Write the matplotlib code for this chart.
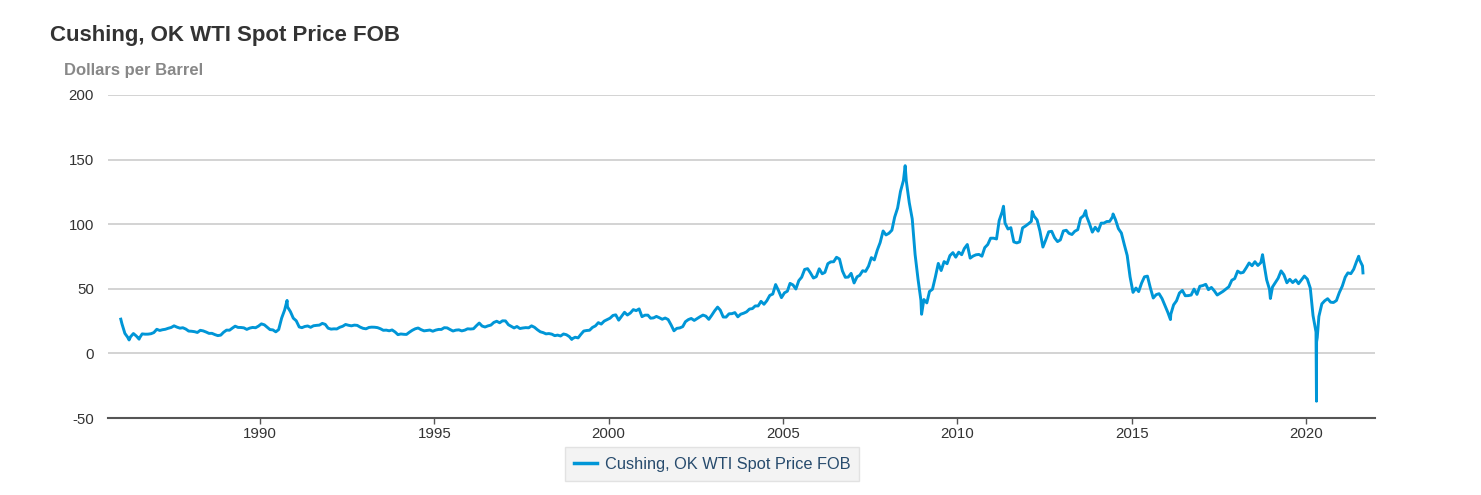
import matplotlib
matplotlib.use("Agg")
import matplotlib.pyplot as plt
import pandas as pd

plt.rcParams['font.family'] = ['Liberation Sans', 'DejaVu Sans']
plt.rcParams['axes.unicode_minus'] = False

title = "Cushing, OK WTI Spot Price FOB"
y_label = "Dollars per Barrel"
series_name = "Cushing, OK WTI Spot Price FOB"

# Monthly average spot prices (USD/bbl), starting Jan 1986
prices_1986_1989 = [
    22.93, 15.46, 12.61, 12.84, 15.38, 13.43, 11.59, 15.10, 14.87, 14.90, 15.22, 16.11,
    18.65, 17.75, 18.30, 18.68, 19.44, 20.07, 21.34, 20.31, 19.53, 19.86, 18.85, 17.28,
    17.13, 16.80, 16.20, 17.86, 17.42, 16.53, 15.50, 15.52, 14.54, 13.77, 14.14, 16.38,
    18.02, 17.94, 19.48, 21.07, 20.12, 20.05, 19.78, 18.58, 19.59, 20.10, 19.86, 21.10,
]
prices_1990s = [
    22.86, 22.11, 20.39, 18.43, 18.20, 16.70, 18.45, 27.31, 33.51, 36.04, 32.33, 27.28,
    25.23, 20.48, 19.90, 20.83, 21.23, 20.19, 21.40, 21.69, 21.89, 23.23, 22.46, 19.50,
    18.79, 19.01, 18.92, 20.23, 20.98, 22.39, 21.78, 21.34, 21.88, 21.69, 20.34, 19.41,
    19.03, 20.09, 20.32, 20.25, 19.95, 19.09, 17.89, 18.01, 17.50, 18.15, 16.61, 14.52,
    15.03, 14.78, 14.68, 16.42, 17.89, 19.06, 19.66, 18.38, 17.45, 17.72, 18.07, 17.16,
    18.04, 18.57, 18.54, 19.90, 19.74, 18.45, 17.33, 18.02, 18.23, 17.43, 17.99, 19.03,
    18.86, 19.09, 21.33, 23.50, 21.17, 20.42, 21.30, 21.90, 23.97, 24.88, 23.71, 25.23,
    25.13, 22.18, 20.97, 19.70, 20.82, 19.26, 19.66, 19.95, 19.80, 21.33, 20.19, 18.33,
    16.72, 16.06, 15.12, 15.35, 14.91, 13.72, 14.17, 13.47, 15.03, 14.46, 13.00, 11.35,
    12.52, 12.01, 14.68, 17.31, 17.72, 17.92, 20.10, 21.28, 23.80, 22.69, 25.00, 26.10,
]
prices_2000s = [
    27.26, 29.37, 29.84, 25.72, 28.79, 31.82, 29.70, 31.26, 33.88, 33.11, 34.42, 28.44,
    29.59, 29.61, 27.24, 27.49, 28.63, 27.60, 26.43, 27.37, 26.20, 22.17, 19.64, 19.39,
    19.72, 20.72, 24.53, 26.18, 27.04, 25.52, 26.97, 28.39, 29.66, 28.84, 26.35, 29.46,
    32.95, 35.83, 33.51, 28.17, 28.11, 30.66, 30.75, 31.57, 28.31, 30.34, 31.11, 32.13,
    34.31, 34.69, 36.74, 36.75, 40.28, 38.03, 40.78, 44.90, 45.94, 53.28, 48.47, 43.15,
    46.84, 48.15, 54.19, 52.98, 49.83, 56.35, 59.00, 64.99, 65.59, 62.26, 58.32, 59.41,
    65.49, 61.63, 62.69, 69.44, 70.84, 70.95, 74.41, 73.04, 63.80, 58.89, 59.08, 61.96,
    54.51, 59.28, 60.44, 63.98, 63.46, 67.49, 74.12, 72.36, 79.92, 85.80, 94.77, 91.69,
    92.97, 95.39, 105.45, 112.58, 125.40, 133.88, 133.37, 116.67, 104.11, 76.61, 57.31, 41.12,
    41.71, 39.09, 47.94, 49.65, 59.03, 69.64, 64.15, 71.05, 69.41, 75.72, 77.99, 74.47,
]
prices_2010s = [
    78.33, 76.39, 81.20, 84.29, 73.74, 75.34, 76.32, 76.60, 75.24, 81.89, 84.25, 89.15,
    89.17, 88.58, 102.86, 109.53, 100.90, 96.26, 97.30, 86.33, 85.52, 86.32, 97.16, 98.56,
    100.27, 102.20, 106.16, 103.32, 94.66, 82.30, 87.90, 94.13, 94.51, 89.49, 86.53, 87.86,
    94.76, 95.31, 92.94, 92.02, 94.51, 95.77, 104.67, 106.57, 106.29, 100.54, 93.86, 97.63,
    94.62, 100.82, 100.80, 102.07, 102.18, 105.79, 103.59, 96.54, 93.21, 84.40, 75.79, 59.29,
    47.22, 50.58, 47.82, 54.45, 59.27, 59.82, 50.90, 42.87, 45.48, 46.22, 42.44, 37.19,
    31.68, 30.32, 37.55, 40.75, 46.71, 48.76, 44.65, 44.72, 45.18, 49.78, 45.66, 51.97,
    52.50, 53.47, 49.33, 51.06, 48.48, 45.18, 46.63, 48.04, 49.82, 51.58, 56.64, 57.88,
    63.70, 62.23, 62.73, 66.25, 69.98, 67.87, 70.98, 68.06, 70.23, 70.75, 56.96, 49.52,
    51.38, 54.95, 58.15, 63.86, 60.83, 54.66, 57.35, 54.81, 56.95, 53.96, 57.03, 59.88,
]
prices_2020s = [
    57.52, 50.54, 29.21, 16.55, 28.56, 38.31, 40.71, 42.34, 39.63, 39.40, 40.94, 47.02,
    52.00, 59.04, 62.33, 61.72, 65.17, 71.38, 72.49, 67.73,
]

# Notable daily extremes visible in the chart
extreme_dates = [
    "1986-01-03", "1986-03-31", "1986-07-14", "1990-10-11", "1998-12-10",
    "2001-11-15", "2008-07-03", "2008-12-22", "2011-04-29", "2012-02-24",
    "2013-09-06", "2014-06-20", "2016-02-11", "2018-10-03", "2018-12-24",
    "2020-04-20", "2020-04-21", "2020-04-28", "2021-07-06", "2021-08-20",
]
extreme_values = [
    26.5, 10.4, 11.0, 41.0, 10.8,
    17.5, 145.3, 30.3, 113.9, 109.8,
    110.5, 107.9, 26.2, 76.4, 42.5,
    -37.0, 8.9, 12.3, 75.2, 62.3,
]

y_ticks = [-50, 0, 50, 100, 150, 200]
x_tick_years = [1990, 1995, 2000, 2005, 2010, 2015, 2020]

monthly = prices_1986_1989 + prices_1990s + prices_2000s + prices_2010s + prices_2020s
monthly_dates = pd.date_range("1986-01-01", periods=len(monthly), freq="MS") + pd.Timedelta(days=14)
s = pd.concat([
    pd.Series(monthly, index=monthly_dates),
    pd.Series(extreme_values, index=pd.to_datetime(extreme_dates)),
]).sort_index()
s = s[~s.index.duplicated()]

W, H = 1481, 495
fig = plt.figure(figsize=(W / 100, H / 100), dpi=100)
ax = fig.add_axes([108 / W, 1 - 418 / H, (1375 - 108) / W, (418 - 95) / H])

ax.plot(s.index, s.values, color="#0096d7", lw=2.1, solid_joinstyle="round", zorder=3,
        label=series_name)

ax.set_ylim(-50, 200)
ax.set_yticks(y_ticks)
ax.set_xlim(pd.Timestamp("1985-08-22"), pd.Timestamp("2021-12-24"))
ax.set_xticks([pd.Timestamp(f"{y}-01-01") for y in x_tick_years])
ax.set_xticklabels([str(y) for y in x_tick_years])

for v in y_ticks[1:]:
    ax.axhline(v, color="#c8c8c8", lw=1.1, zorder=1)

for sp in ["top", "right", "left"]:
    ax.spines[sp].set_visible(False)
ax.spines["bottom"].set_color("#555555")
ax.spines["bottom"].set_linewidth(1.5)

ax.tick_params(axis="y", length=0, pad=10, labelsize=10.8, labelcolor="#333333")
ax.tick_params(axis="x", length=4.5, width=1, color="#555555", pad=2,
               labelsize=10.8, labelcolor="#333333")

fig.text(50 / W, 1 - 35 / H, title, fontsize=16, fontweight="bold", color="#333333",
         va="center", ha="left")
fig.text(64 / W, 1 - 71 / H, y_label, fontsize=12, fontweight="bold", color="#888888",
         va="center", ha="left")

leg = fig.legend(loc="center", bbox_to_anchor=(712 / W, 1 - 464 / H), frameon=True,
                 fontsize=11.8, handlelength=1.4, handletextpad=0.5, borderpad=0.55,
                 fancybox=False)
leg.get_frame().set_facecolor("#f0f0f0")
leg.get_frame().set_edgecolor("#dddddd")
leg.get_frame().set_linewidth(1.0)
for t in leg.get_texts():
    t.set_color("#274b6d")
for l in leg.get_lines():
    l.set_linewidth(2.5)

fig.savefig("out.png", dpi=100)
